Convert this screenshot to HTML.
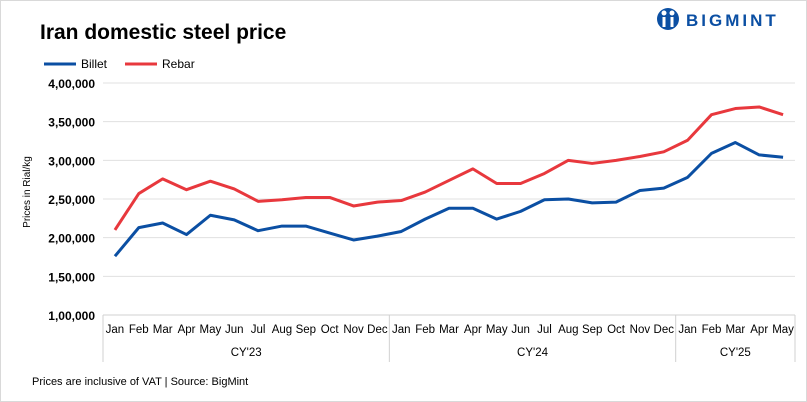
<!DOCTYPE html>
<html><head><meta charset="utf-8"><style>
body{margin:0;background:#fff;}
svg{display:block;font-family:"Liberation Sans",Arial,sans-serif;}
</style></head><body>
<svg id="c" width="807" height="402">
<rect x="0.5" y="0.5" width="806" height="401" fill="#fff" stroke="#d9d9d9"/>
<text x="40" y="39" font-size="21" font-weight="bold" fill="#000">Iran domestic steel price</text>
<g>
<circle cx="668" cy="19" r="11" fill="#0b4fa3"/>
<circle cx="664" cy="13" r="2.5" fill="#fff"/><circle cx="672" cy="13" r="2.5" fill="#fff"/>
<rect x="662.5" y="17" width="3" height="10" fill="#fff"/><rect x="670.5" y="17" width="3" height="10" fill="#fff"/>
<text x="686" y="26" font-size="17" font-weight="bold" fill="#0b4fa3" letter-spacing="3">BIGMINT</text>
</g>
<g>
<line x1="44" y1="64" x2="76" y2="64" stroke="#0b4fa3" stroke-width="3"/>
<text x="81" y="68" font-size="12">Billet</text>
<line x1="125" y1="64" x2="157" y2="64" stroke="#e8383d" stroke-width="3"/>
<text x="162" y="68" font-size="12">Rebar</text>
</g>
<text transform="translate(30,192) rotate(-90)" text-anchor="middle" font-size="10">Prices in Rial/kg</text>
<text x="32" y="385" font-size="11">Prices are inclusive of VAT |  Source: BigMint</text>
<g id="grid"></g><g id="axis"></g><g id="series"></g>
</svg>
<script>
const months=["Jan","Feb","Mar","Apr","May","Jun","Jul","Aug","Sep","Oct","Nov","Dec","Jan","Feb","Mar","Apr","May","Jun","Jul","Aug","Sep","Oct","Nov","Dec","Jan","Feb","Mar","Apr","May"];
const years=["CY'23","CY'24","CY'25"];
const yearCounts=[12,12,5];
const billet=[176,213,219,204,229,223,209,215,215,206,197,202,208,224,238,238,224,234,249,250,245,246,261,264,278,309,323,307,304];
const rebar=[210,257,276,262,273,263,247,249,252,252,241,246,248,259,274,289,270,270,283,300,296,300,305,311,326,359,367,369,359];
const yTicks=[100,150,200,250,300,350,400];
const yTickLabels=["1,00,000","1,50,000","2,00,000","2,50,000","3,00,000","3,50,000","4,00,000"];
const NS="http://www.w3.org/2000/svg";
const x0=103,x1=795,yTop=83,yBot=315,bw=(x1-x0)/months.length;
const X=i=>x0+bw*(i+0.5);
const Y=v=>yBot-(v-100)/300*(yBot-yTop);
function mk(t,a,p){const e=document.createElementNS(NS,t);for(const k in a)e.setAttribute(k,a[k]);p.appendChild(e);return e;}
const grid=document.getElementById('grid'),axis=document.getElementById('axis'),ser=document.getElementById('series');
yTicks.forEach((v,i)=>{
 if(i>0){const l=mk('line',{x1:x0,x2:x1,y1:Y(v),y2:Y(v),stroke:'#e0e0e0'},grid);
 
 }
 const t=mk('text',{x:95,y:Y(v)+5,'text-anchor':'end','font-size':12,'font-weight':'bold'},axis);t.textContent=yTickLabels[i];
 
 
});
const base=mk('line',{x1:x0,x2:x1,y1:yBot,y2:yBot,stroke:'#d0d0d0'},axis);


months.forEach((m,i)=>{const t=mk('text',{x:X(i),y:333,'text-anchor':'middle','font-size':11.5},axis);t.textContent=m;
 
 });
let s=0;
mk('line',{x1:x0,x2:x0,y1:yBot,y2:362,stroke:'#d0d0d0'},axis);
years.forEach((y,k)=>{const a=x0+s*bw,b=x0+(s+yearCounts[k])*bw;s+=yearCounts[k];
 const l=mk('line',{x1:b,x2:b,y1:yBot,y2:362,stroke:'#d0d0d0'},axis);
 
 
 const t=mk('text',{x:(a+b)/2,y:356,'text-anchor':'middle','font-size':11.5},axis);t.textContent=y;
 
 });
function line(d,c,n){const p=mk('polyline',{points:d.map((v,i)=>X(i)+','+Y(v)).join(' '),fill:'none',stroke:c,'stroke-width':3,'stroke-linejoin':'round'},ser);
 
 }
line(billet,'#0b4fa3','billet-line');
line(rebar,'#e8383d','rebar-line');
</script>
</body></html>
